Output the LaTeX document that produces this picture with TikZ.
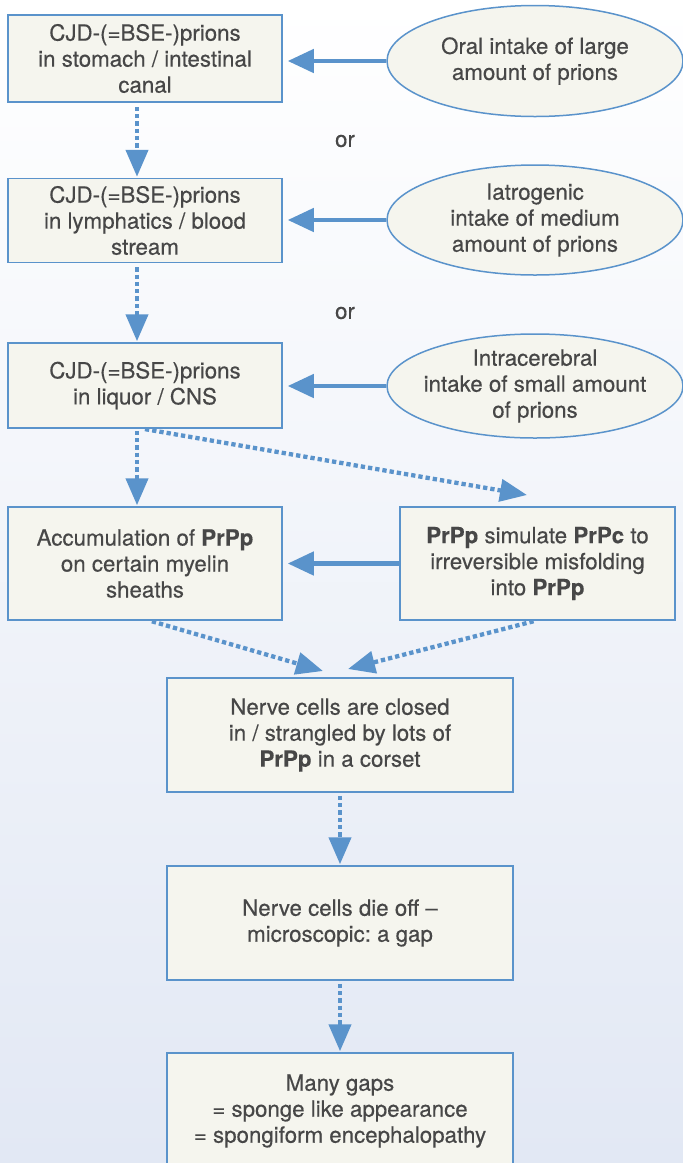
\documentclass[tikz,border=0pt]{standalone}
\usepackage{fontspec}
\setmainfont{TeX Gyre Heros}[FakeBold=0.35]
\usetikzlibrary{shapes.geometric,arrows.meta}
\definecolor{bl}{HTML}{5A93CB}
\definecolor{bx}{HTML}{F5F5EE}
\definecolor{tx}{HTML}{474747}
\definecolor{bgb}{HTML}{E2E8F4}
\frenchspacing
\begin{document}
\begin{tikzpicture}[x=1pt,y=-1pt,
  box/.style={rectangle,draw=bl,fill=bx,line width=1.5pt,text=tx,align=center,
    font=\fontsize{22.3}{26}\selectfont,inner sep=0pt},
  oval/.style={ellipse,draw=bl,fill=bx,line width=1.5pt,text=tx,align=center,
    font=\fontsize{22.3}{26}\selectfont,inner sep=0pt,inner xsep=-40pt},
  lbl/.style={text=tx,font=\fontsize{22.3}{26}\selectfont,inner sep=0pt},
  solidarr/.style={draw=bl,line width=4.5pt,-{Triangle[length=26pt,width=23pt]},shorten >=5pt},
  dotarr/.style={draw=bl,line width=4.3pt,dash pattern=on 4.3pt off 3pt,-{Triangle[length=27pt,width=22pt]}}]
\useasboundingbox (0,0) rectangle (683,1163);
\clip (0,0) rectangle (683,1163);
\shade[top color=white,bottom color=bgb] (0,0) rectangle (683,1163);

\node[box,minimum width=274pt,minimum height=87pt] (b1) at (145,58.5)
  {CJD-(=BSE-)prions\\in stomach / intestinal\\canal};
\node[box,minimum width=274pt,minimum height=84pt] (b2) at (145,220.5)
  {CJD-(=BSE-)prions\\in lymphatics / blood\\stream};
\node[box,minimum width=274pt,minimum height=85pt] (b3) at (145,385.5)
  {CJD-(=BSE-)prions\\in liquor / CNS};
\node[box,minimum width=274pt,minimum height=113pt] (b4) at (145,563.5)
  {Accumulation of \textbf{PrPp}\\on certain myelin\\sheaths};
\node[box,minimum width=275pt,minimum height=113pt] (b5) at (537.5,563.5)
  {\textbf{PrPp} simulate \textbf{PrPc} to\\irreversible misfolding\\into \textbf{PrPp}};
\node[box,minimum width=346pt,minimum height=114pt] (b6) at (340,735)
  {Nerve cells are closed\\in / strangled by lots of\\\textbf{PrPp} in a corset};
\node[box,minimum width=346pt,minimum height=114pt] (b7) at (340,923)
  {Nerve cells die off --\\microscopic: a gap};
\node[box,minimum width=346pt,minimum height=116pt] (b8) at (340,1111)
  {Many gaps\\= sponge like appearance\\= spongiform encephalopathy};

\node[oval,minimum width=296pt,minimum height=111pt] (e1) at (535,61)
  {Oral intake of large\\amount of prions};
\node[oval,minimum width=296pt,minimum height=110pt] (e2) at (535,220)
  {Iatrogenic\\intake of medium\\amount of prions};
\node[oval,minimum width=296pt,minimum height=104pt] (e3) at (535,386)
  {Intracerebral\\intake of small amount\\of prions};

\node[lbl] (or1) at (345,141) {or};
\node[lbl] (or2) at (345,313) {or};

\draw[solidarr] (e1.west) -- (e1.west -| b1.east);
\draw[solidarr] (e2.west) -- (e2.west -| b2.east);
\draw[solidarr] (e3.west) -- (e3.west -| b3.east);
\draw[solidarr] (b5.west) -- (b4.east);

\coordinate (d1) at (527,495);
\coordinate (d2) at (323,671);
\coordinate (d3) at (348,669);

\draw[dotarr,shorten <=4pt,shorten >=1pt] ([xshift=-8pt]b1.south) -- ([xshift=-8pt]b2.north);
\draw[dotarr,shorten <=4pt,shorten >=1pt] ([xshift=-8pt]b2.south) -- ([xshift=-8pt]b3.north);
\draw[dotarr,shorten <=2pt,shorten >=1pt] ([xshift=-8pt]b3.south) -- ([xshift=-8pt]b4.north);
\draw[dotarr,shorten <=2pt] ([xshift=-2pt]b3.south) -- (d1);
\draw[dotarr,shorten <=2pt] ([xshift=5pt]b4.south) -- (d2);
\draw[dotarr,shorten <=2pt] ([xshift=-2pt]b5.south) -- (d3);
\draw[dotarr,shorten <=3pt,shorten >=1pt] (b6.south) -- (b7.north);
\draw[dotarr,shorten <=3pt,shorten >=1pt] (b7.south) -- (b8.north);
\end{tikzpicture}
\end{document}
